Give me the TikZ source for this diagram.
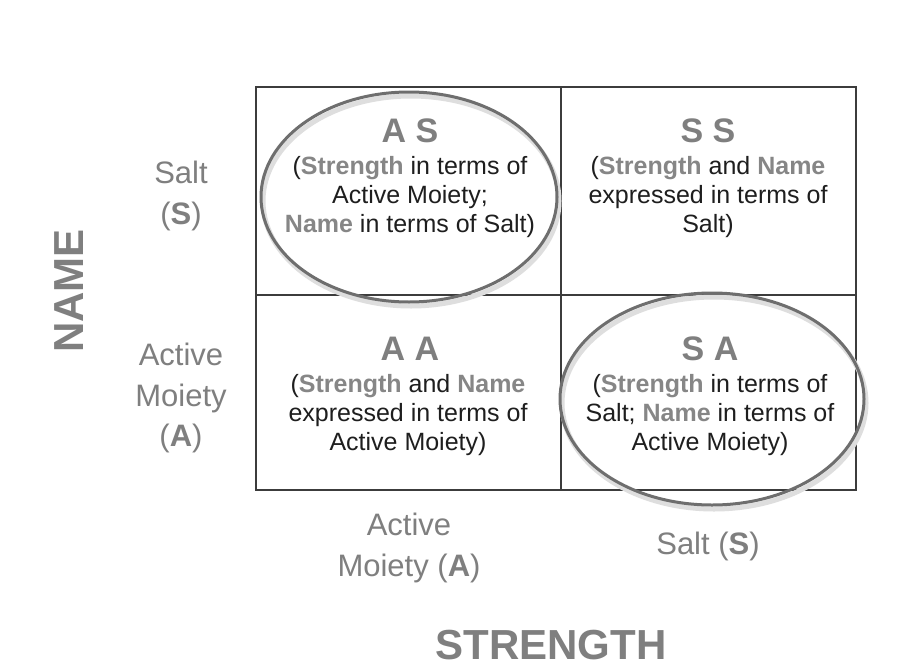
\documentclass[tikz,border=0pt]{standalone}
\usepackage{fontspec}
\setmainfont{Liberation Sans}
\usetikzlibrary{shapes.geometric}
\definecolor{lblgray}{HTML}{7F7F7F}
\definecolor{hlgray}{HTML}{868686}
\definecolor{txtdark}{HTML}{1E1E1E}
\definecolor{gridc}{HTML}{3C3C3C}
\definecolor{ellc}{HTML}{6E6E6E}
\newcommand\hlw[1]{{\bfseries\color{hlgray}#1}}
\begin{document}
\begin{tikzpicture}[x=1pt,y=-1pt,
  celltext/.style={align=center, text=txtdark, font=\fontsize{25}{29.3}\selectfont, inner sep=0pt},
  head/.style={text=lblgray, font=\fontsize{34}{38}\selectfont\bfseries, inner sep=0pt},
  side/.style={align=center, text=lblgray, font=\fontsize{31}{40.5}\selectfont, inner sep=0pt},
  axis/.style={text=lblgray, font=\fontsize{42}{48}\selectfont\bfseries, inner sep=0pt},
  oval/.style={ellipse, draw=ellc, line width=3pt, inner sep=0pt},
  ovalshadow/.style={ellipse, draw=black!13, line width=5pt, inner sep=0pt}
]
\useasboundingbox (0,0) rectangle (917,669);
\fill[white] (0,0) rectangle (917,669);

% grid cells
\node[draw=gridc, line width=1.1pt, minimum width=305pt, minimum height=208pt, inner sep=0pt] (cAS) at (408.5,191) {};
\node[draw=gridc, line width=1.1pt, minimum width=295pt, minimum height=208pt, inner sep=0pt] (cSS) at (708.5,191) {};
\node[draw=gridc, line width=1.1pt, minimum width=305pt, minimum height=195pt, inner sep=0pt] (cAA) at (408.5,392.5) {};
\node[draw=gridc, line width=1.1pt, minimum width=295pt, minimum height=195pt, inner sep=0pt] (cSA) at (708.5,392.5) {};

% ellipse shadows and ellipses
\node[ovalshadow, minimum width=296pt, minimum height=210pt] (s1) at (411,201) {};
\node[ovalshadow, minimum width=304pt, minimum height=212pt] (s2) at (714,403) {};
\node[oval, minimum width=296pt, minimum height=210pt] (e1) at (409,197) {};
\node[oval, minimum width=304pt, minimum height=212pt] (e2) at (712,399) {};

% cell headers
\node[head] (hAS) at (410,131) {A S};
\node[head] (hSS) at (708,131) {S S};
\node[head] (hAA) at (410,349) {A A};
\node[head] (hSA) at (710,349) {S A};

% cell texts
\node[celltext] (tAS) at (410,197) {(\hlw{Strength} in terms of\\Active Moiety;\\\hlw{Name} in terms of Salt)};
\node[celltext] (tSS) at (708,197) {(\hlw{Strength} and \hlw{Name}\\expressed in terms of\\Salt)};
\node[celltext] (tAA) at (408,415) {(\hlw{Strength} and \hlw{Name}\\expressed in terms of\\Active Moiety)};
\node[celltext] (tSA) at (710,415) {(\hlw{Strength} in terms of\\Salt; \hlw{Name} in terms of\\Active Moiety)};

% side labels
\node[side] (lS) at (181,196) {Salt\\(\textbf{S})};
\node[side] (lA) at (181,398) {Active\\Moiety\\(\textbf{A})};
\node[side] (bA) at (409,548) {Active\\Moiety (\textbf{A})};
\node[side] (bS) at (708,546) {Salt (\textbf{S})};

% axis titles
\node[axis, rotate=90] (name) at (69,291) {NAME};
\node[axis] (strength) at (551,645) {STRENGTH};
\end{tikzpicture}
\end{document}
